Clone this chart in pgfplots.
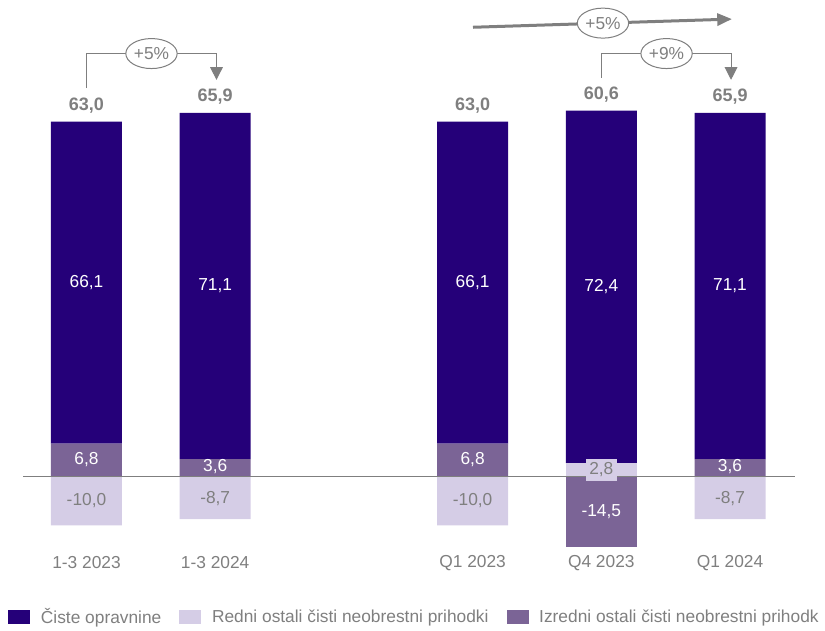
\documentclass[border=0pt]{standalone}
\usepackage{fontspec}
\setmainfont{Liberation Sans}
\usepackage{pgfplots}
\pgfplotsset{compat=1.18}
\usetikzlibrary{arrows.meta,shapes.geometric}

\definecolor{navy}{HTML}{250079}
\definecolor{izr}{HTML}{7B6496}
\definecolor{redni}{HTML}{D5CDE6}
\definecolor{txt}{HTML}{7F7F7F}

\pgfplotsset{
  base/.style={width=618.75pt, height=473.25pt, scale only axis,
    xmin=-0.672, xmax=5.738, ymin=-31.7, ymax=97.9, hide axis, clip=false},
  bars/.style={base, ybar stacked, bar width=53.25pt},
  lbl/.style={forget plot, only marks, mark=none, point meta=explicit symbolic,
    nodes near coords={\pgfplotspointmeta}, nodes near coords align={anchor=center}},
}
\newcommand{\fs}{\fontsize{13}{15}\selectfont}

\begin{document}
\begin{tikzpicture}
% negative parts
\begin{axis}[bars]
\addplot[fill=redni, draw=none] coordinates {(0,-10.0) (1,-8.7) (3,-10.0) (4,0) (5,-8.7)};
\addplot[fill=izr, draw=none] coordinates {(0,0) (1,0) (3,0) (4,-14.5) (5,0)};
\end{axis}
% positive parts
\begin{axis}[bars]
\addplot[fill=redni, draw=none] coordinates {(0,0) (1,0) (3,0) (4,2.8) (5,0)};
\addplot[fill=izr, draw=none] coordinates {(0,6.8) (1,3.6) (3,6.8) (4,0) (5,3.6)};
\addplot[fill=navy, draw=none] coordinates {(0,66.1) (1,71.1) (3,66.1) (4,72.4) (5,71.1)};
\end{axis}
% labels, arrows, legend
\begin{axis}[base,
  legend columns=-1,
  legend style={at={(0.0097,0.0222)}, anchor=west, draw=none, fill=none,
    font=\fs, text=txt, inner sep=0pt,
    /tikz/every odd column/.append style={column sep=6pt},
    /tikz/every even column/.append style={column sep=11.5pt}},
  legend image code/.code={\path[#1, draw=none] (0pt,-4.9pt) rectangle (16.5pt,4.9pt);},
]
\path (rel axis cs:0,0) rectangle (rel axis cs:1,1);
\addlegendimage{fill=navy}\addlegendentry{Čiste opravnine}
\addlegendimage{fill=redni}\addlegendentry{Redni ostali čisti neobrestni prihodki}
\addlegendimage{fill=izr}\addlegendentry{Izredni ostali čisti neobrestni prihodk}

\draw[txt, line width=1pt] (axis cs:-0.493,0) -- (axis cs:5.505,0);

\addplot[lbl, every node near coord/.append style={text=white, font=\fs}] coordinates {
  (0,39.95) [66,1] (1,39.25) [71,1] (3,39.95) [66,1] (4,39.1) [72,4] (5,39.25) [71,1]
  (0,3.6) [6,8] (1,2.0) [3,6] (3,3.6) [6,8] (5,2.0) [3,6] (4,-7.25) [-14,5]
};
\addplot[lbl, every node near coord/.append style={text=txt, font=\fs}] coordinates {
  (0,-4.9) [-10,0] (1,-4.4) [-8,7] (3,-4.9) [-10,0] (5,-4.4) [-8,7]
};
\addplot[lbl, every node near coord/.append style={text=txt, font=\fs,
    fill=redni, inner xsep=2.5pt, inner ysep=3pt}] coordinates {(4,1.4) [2,8]};
\addplot[lbl, every node near coord/.append style={text=txt,
    font=\fontsize{13.5}{15}\selectfont\bfseries}] coordinates {
  (0,76.3) [63,0] (1,78.1) [65,9] (3,76.3) [63,0] (4,78.4) [60,6] (5,78.1) [65,9]
};
\addplot[lbl, every node near coord/.append style={text=txt, font=\fs}] coordinates {
  (0,-17.7) [1-3 2023] (1,-17.7) [1-3 2024] (3,-17.7) [Q1 2023] (4,-17.7) [Q4 2023] (5,-17.7) [Q1 2024]
};

\tikzset{pct/.style={ellipse, draw=txt, fill=white, line width=0.75pt, minimum width=38.5pt,
  minimum height=22.5pt, inner sep=0pt, text=txt, font=\fs}}
\draw[txt, line width=0.8pt, -{Triangle[length=9.5pt, width=9.5pt]}]
  (axis cs:0,79.8) -- (axis cs:0,86.9) -- (axis cs:1.01,86.9) -- (axis cs:1.01,81.5);
\node[pct] at (axis cs:0.505,86.9) {+5\%};
\draw[txt, line width=0.8pt, -{Triangle[length=9.5pt, width=9.5pt]}]
  (axis cs:4.005,81.9) -- (axis cs:4.005,86.9) -- (axis cs:5.008,86.9) -- (axis cs:5.008,81.5);
\node[pct] at (axis cs:4.507,86.9) {+9\%};
\draw[txt, line width=2.25pt, -{Triangle[length=11pt, width=9pt]}]
  (axis cs:3.003,92.3) -- (axis cs:5.015,93.98);
\node[pct] at (axis cs:4.013,93.15) {+5\%};
\end{axis}
\end{tikzpicture}
\end{document}
